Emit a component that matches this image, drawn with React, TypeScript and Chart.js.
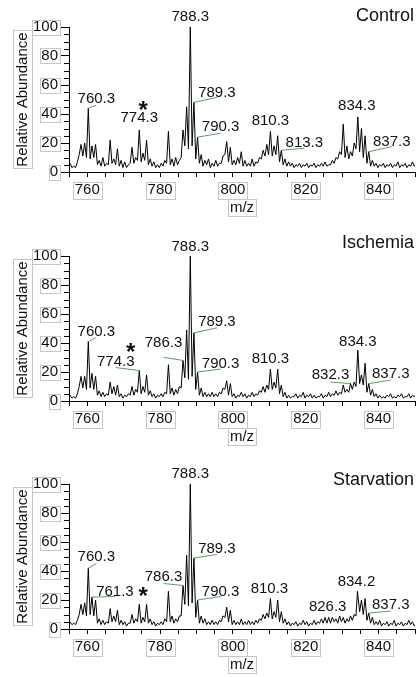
import React, { useEffect, useRef } from 'react';
import { Chart, registerables } from 'chart.js';

Chart.register(...registerables);

// ---------------------------------------------------------------------------
// Spectra: relative abundance (%) sampled at every nominal mass n + 0.3
// (n = 755 … 850) and at the minima in between (n + 0.8, n = 755 … 849).
// ---------------------------------------------------------------------------
const MZ_FIRST = 755;

const controlPeaks = [
  6, 4, 7, 19, 20, 44, 18, 19, 8, 10, // 755–764
  6, 22, 9, 16, 8, 7, 5, 17, 10, 29, // 765–774
  13, 22, 9, 7, 5, 6, 8, 28, 9, 10, // 775–784
  8, 29, 45, 100, 48, 24, 12, 8, 9, 6, // 785–794
  8, 6, 11, 21, 17, 8, 10, 14, 8, 6, // 795–804
  9, 7, 10, 15, 19, 28, 18, 25, 15, 9, // 805–814
  7, 6, 5, 6, 5, 6, 5, 6, 5, 6, // 815–824
  7, 5, 8, 10, 14, 33, 18, 14, 20, 38, // 825–834
  30, 25, 14, 8, 6, 5, 6, 5, 6, 5, // 835–844
  7, 5, 6, 5, 7, 6, // 845–850
];
const controlTroughs = [
  3, 3, 12, 11, 10, 9, 10, 5, 4, 4,
  5, 6, 5, 4, 3, 3, 6, 6, 8, 7,
  8, 5, 4, 3, 3, 4, 6, 5, 4, 5,
  10, 18, 16, 18, 9, 6, 4, 5, 3, 4,
  4, 6, 12, 7, 5, 5, 6, 4, 4, 4,
  4, 6, 9, 11, 12, 11, 12, 7, 5, 4,
  4, 3, 4, 3, 4, 3, 4, 3, 4, 4,
  4, 5, 6, 9, 12, 10, 9, 11, 16, 14,
  10, 6, 4, 4, 3, 4, 3, 4, 3, 4,
  3, 4, 3, 4, 4,
];

const ischemiaPeaks = [
  4, 3, 5, 17, 17, 41, 19, 17, 7, 6,
  5, 13, 10, 11, 5, 4, 5, 10, 8, 21,
  10, 18, 7, 5, 4, 5, 6, 25, 9, 8,
  10, 28, 49, 100, 47, 20, 9, 6, 5, 6,
  5, 6, 9, 14, 12, 5, 4, 6, 5, 4,
  6, 5, 7, 10, 11, 22, 13, 22, 11, 6,
  4, 3, 5, 4, 6, 4, 5, 4, 3, 5,
  4, 6, 5, 7, 6, 11, 8, 12, 13, 35,
  18, 26, 12, 8, 5, 4, 3, 4, 5, 3,
  4, 5, 3, 5, 4, 5,
];
const ischemiaTroughs = [
  2, 2, 10, 9, 8, 9, 8, 4, 3, 3,
  4, 5, 4, 3, 2, 3, 4, 4, 6, 5,
  6, 4, 3, 2, 3, 3, 5, 5, 4, 5,
  9, 16, 15, 17, 8, 4, 3, 3, 3, 3,
  3, 5, 8, 4, 3, 2, 3, 3, 2, 3,
  3, 4, 6, 6, 8, 8, 9, 5, 3, 2,
  2, 3, 2, 3, 2, 3, 2, 2, 3, 2,
  3, 3, 4, 4, 5, 6, 6, 8, 10, 12,
  11, 6, 4, 3, 2, 2, 2, 3, 2, 2,
  3, 2, 3, 2, 3,
];

const starvationPeaks = [
  5, 4, 6, 17, 18, 42, 22, 20, 7, 6,
  5, 14, 9, 13, 6, 5, 4, 10, 7, 17,
  8, 17, 7, 5, 4, 5, 7, 26, 9, 7,
  9, 30, 51, 100, 49, 20, 9, 7, 5, 6,
  5, 6, 9, 15, 13, 6, 5, 7, 5, 6,
  5, 6, 7, 10, 11, 21, 12, 20, 12, 7,
  5, 4, 5, 4, 6, 5, 4, 6, 5, 7,
  8, 8, 8, 7, 9, 8, 7, 9, 10, 26,
  20, 21, 11, 8, 5, 6, 4, 5, 4, 6,
  4, 5, 4, 6, 5, 4,
];
const starvationTroughs = [
  3, 3, 10, 10, 9, 10, 9, 4, 3, 3,
  4, 5, 5, 3, 3, 2, 4, 4, 5, 4,
  5, 4, 3, 2, 3, 3, 5, 5, 4, 5,
  9, 17, 16, 18, 8, 4, 4, 3, 3, 3,
  3, 5, 8, 5, 3, 3, 3, 3, 3, 3,
  3, 4, 6, 7, 8, 7, 8, 5, 4, 3,
  2, 3, 2, 3, 3, 2, 3, 3, 4, 4,
  4, 4, 5, 4, 5, 4, 5, 6, 9, 12,
  10, 6, 4, 3, 3, 2, 3, 2, 3, 2,
  3, 2, 3, 3, 2,
];

// Annotated peaks (m/z) and the starred species
const controlLabels = ['760.3', '774.3', '788.3', '789.3', '790.3', '810.3', '813.3', '834.3', '837.3'];
const ischemiaLabels = ['760.3', '774.3', '786.3', '788.3', '789.3', '790.3', '810.3', '832.3', '834.3', '837.3'];
const starvationLabels = ['760.3', '761.3', '786.3', '788.3', '789.3', '790.3', '810.3', '826.3', '834.2', '837.3'];
const STARRED_MZ = 774.3;

// Axes
const X_MIN = 755;
const X_MAX = 850;
const X_STEP = 5;
const X_LABELLED = [760, 780, 800, 820, 840];
const Y_MIN = 0;
const Y_MAX = 100;
const Y_STEP = 5;
const Y_LABEL_EVERY = 20;

// ---------------------------------------------------------------------------
// Layout
// ---------------------------------------------------------------------------
const WIDTH = 419;
const PLOT_H = 145;
const X_AXIS_H = 45;
const Y_AXIS_W = 69;
const FONT = '"Liberation Sans", Arial, Helvetica, sans-serif';
const BOX = '#c6c6c6';
const LEADER = 'rgb(92,158,92)';

type Note = { dx: number; dy: number; ly?: number };

type Panel = {
  name: string;
  peaks: number[];
  troughs: number[];
  labels: string[];
  top: number; // canvas top on the page
  plotTop: number; // plot area top inside the canvas
  titleDy: number;
  notes: Record<string, Note>;
  star: { dx: number; dy: number };
};

const panels: Panel[] = [
  {
    name: 'Control',
    peaks: controlPeaks,
    troughs: controlTroughs,
    labels: controlLabels,
    top: 0,
    plotTop: 27,
    titleDy: -10.5,
    notes: {
      '760.3': { dx: 8, dy: -9, ly: 6 },
      '774.3': { dx: 0, dy: -12 },
      '788.3': { dx: 0, dy: -10 },
      '789.3': { dx: 23, dy: -10, ly: 5 },
      '790.3': { dx: 23, dy: -10, ly: 6 },
      '810.3': { dx: 0, dy: -11 },
      '813.3': { dx: 23, dy: -7, ly: 5 },
      '834.3': { dx: -1, dy: -11 },
      '837.3': { dx: 23, dy: -10, ly: 5 },
    },
    star: { dx: 4, dy: -26 },
  },
  {
    name: 'Ischemia',
    peaks: ischemiaPeaks,
    troughs: ischemiaTroughs,
    labels: ischemiaLabels,
    top: 217,
    plotTop: 39,
    titleDy: -13,
    notes: {
      '760.3': { dx: 8, dy: -10, ly: 6 },
      '774.3': { dx: -23.5, dy: -9, ly: 6 },
      '786.3': { dx: -19.5, dy: -18, ly: 15 },
      '788.3': { dx: 0, dy: -9.5 },
      '789.3': { dx: 23, dy: -11, ly: 6 },
      '790.3': { dx: 23, dy: -8, ly: 5 },
      '810.3': { dx: 0, dy: -10 },
      '832.3': { dx: -20, dy: -8.5, ly: 7 },
      '834.3': { dx: 0, dy: -8.5 },
      '837.3': { dx: 22, dy: -9.5, ly: 6 },
    },
    star: { dx: -8.5, dy: -24.5 },
  },
  {
    name: 'Starvation',
    peaks: starvationPeaks,
    troughs: starvationTroughs,
    labels: starvationLabels,
    top: 446,
    plotTop: 38,
    titleDy: -4,
    notes: {
      '760.3': { dx: 8, dy: -11, ly: 6.5 },
      '761.3': { dx: 23, dy: -5.5, ly: 5 },
      '786.3': { dx: -19.5, dy: -9, ly: 7 },
      '788.3': { dx: 0, dy: -10.5 },
      '789.3': { dx: 23, dy: -9.5, ly: 6 },
      '790.3': { dx: 23, dy: -8.5, ly: 5 },
      '810.3': { dx: -1, dy: -10 },
      '826.3': { dx: -1, dy: -10.5 },
      '834.2': { dx: -1, dy: -9.5 },
      '837.3': { dx: 22, dy: -8, ly: 6 },
    },
    star: { dx: 4, dy: -14.5 },
  },
];

// Profile points: labelled peaks sit at their stated m/z
function buildSpectrum(peaks: number[], troughs: number[], labels: string[]) {
  const labelled = labels.map(Number);
  const pts: { x: number; y: number }[] = [];
  peaks.forEach((v, i) => {
    const nominal = MZ_FIRST + i;
    const hit = labelled.find((m) => Math.floor(m) === nominal);
    pts.push({ x: hit !== undefined ? hit : nominal + 0.3, y: v });
    if (i < troughs.length) pts.push({ x: nominal + 0.8, y: troughs[i] });
  });
  return pts;
}

function peakValue(peaks: number[], mz: number) {
  return peaks[Math.floor(mz) - MZ_FIRST];
}

const notesPlugin = {
  id: 'peakNotes',
  afterDraw(chart: any, _args: any, opts: any) {
    const panel: Panel = opts.panel;
    const { ctx, chartArea } = chart;
    const xs = chart.scales.x;
    const ys = chart.scales.y;
    ctx.save();

    // minor ticks on the abundance axis
    ctx.strokeStyle = '#000';
    ctx.lineWidth = 1;
    ys.ticks.forEach((t: any) => {
      if (t.value % Y_LABEL_EVERY === 0) return;
      const py = Math.round(ys.getPixelForValue(t.value)) + 0.5;
      ctx.beginPath();
      ctx.moveTo(chartArea.left - 5, py);
      ctx.lineTo(chartArea.left, py);
      ctx.stroke();
    });

    // frames around tick labels and axis titles
    ctx.strokeStyle = BOX;
    ctx.font = `15px ${FONT}`;
    ys.ticks.forEach((t: any) => {
      if (t.value % Y_LABEL_EVERY !== 0) return;
      const w = ctx.measureText(String(t.value)).width;
      const py = ys.getPixelForValue(t.value);
      const right = chartArea.left - 9;
      ctx.strokeRect(Math.round(right - w - 3) + 0.5, Math.round(py - 7.5) + 0.5, Math.round(w + 3), 15);
    });
    const axisY = chartArea.bottom;
    xs.ticks.forEach((t: any) => {
      if (!X_LABELLED.includes(t.value)) return;
      const w = ctx.measureText(String(t.value)).width;
      const px = xs.getPixelForValue(t.value);
      ctx.strokeRect(Math.round(px - w / 2 - 2) + 0.5, Math.round(axisY + 10) + 0.5, Math.round(w + 4), 17);
    });
    const mzW = ctx.measureText('m/z').width;
    const midX = (chartArea.left + chartArea.right) / 2;
    ctx.strokeRect(Math.round(midX - mzW / 2 - 2) + 0.5, Math.round(axisY + 27) + 0.5, Math.round(mzW + 4), 17);
    const yTitleW = ctx.measureText('Relative Abundance').width;
    const midY = (chartArea.top + chartArea.bottom) / 2;
    ctx.strokeRect(13.5, Math.round(midY - yTitleW / 2 - 2) + 0.5, 19, Math.round(yTitleW + 4));

    // peak labels with leader lines
    ctx.fillStyle = '#111';
    ctx.textAlign = 'center';
    ctx.textBaseline = 'middle';
    panel.labels.forEach((lab) => {
      const mz = Number(lab);
      const note = panel.notes[lab];
      const px = xs.getPixelForValue(mz);
      const py = ys.getPixelForValue(peakValue(panel.peaks, mz));
      const tx = px + note.dx;
      const ty = py + note.dy;
      if (note.ly !== undefined) {
        ctx.strokeStyle = LEADER;
        ctx.beginPath();
        ctx.moveTo(px, py);
        ctx.lineTo(tx, ty + note.ly);
        ctx.stroke();
      }
      ctx.fillText(lab, tx, ty);
    });

    // star marking the species at m/z 774.3
    const sx = xs.getPixelForValue(STARRED_MZ) + panel.star.dx;
    const sy = ys.getPixelForValue(peakValue(panel.peaks, STARRED_MZ)) + panel.star.dy;
    ctx.font = `bold 24px ${FONT}`;
    ctx.textBaseline = 'alphabetic';
    ctx.fillText('*', sx, sy + 14);

    // condition name
    ctx.font = `18px ${FONT}`;
    ctx.textAlign = 'right';
    ctx.textBaseline = 'middle';
    ctx.fillStyle = '#111';
    ctx.fillText(panel.name, 414, chartArea.top + panel.titleDy);

    ctx.restore();
  },
};

function SpectrumPanel({ panel }: { panel: Panel }) {
  const ref = useRef<HTMLCanvasElement | null>(null);
  const height = panel.plotTop + PLOT_H + X_AXIS_H;

  useEffect(() => {
    if (!ref.current) return;
    const tickFont = { family: FONT, size: 15 };
    const chart = new Chart(ref.current, {
      type: 'line',
      data: {
        datasets: [
          {
            data: buildSpectrum(panel.peaks, panel.troughs, panel.labels),
            borderColor: '#000',
            borderWidth: 1,
            pointRadius: 0,
            tension: 0,
            fill: false,
          },
        ],
      },
      options: {
        responsive: false,
        animation: false,
        events: [],
        layout: { padding: { top: panel.plotTop, left: 0, right: 0, bottom: 0 } },
        plugins: {
          legend: { display: false },
          tooltip: { enabled: false },
          peakNotes: { panel },
        } as any,
        scales: {
          x: {
            type: 'linear',
            min: X_MIN,
            max: X_MAX,
            afterFit: (s: any) => {
              s.height = X_AXIS_H;
            },
            ticks: {
              stepSize: X_STEP,
              autoSkip: false,
              maxRotation: 0,
              padding: 4,
              color: '#111',
              font: tickFont,
              callback: (v: any) => (X_LABELLED.includes(Number(v)) ? String(v) : ''),
            },
            grid: { drawOnChartArea: false, tickLength: 5, tickColor: '#000' },
            border: { color: '#000', width: 1 },
            title: { display: true, text: 'm/z', color: '#111', font: tickFont, padding: 0 },
          },
          y: {
            min: Y_MIN,
            max: Y_MAX,
            afterFit: (s: any) => {
              s.width = Y_AXIS_W;
            },
            ticks: {
              stepSize: Y_STEP,
              autoSkip: false,
              padding: 2,
              color: '#111',
              font: tickFont,
              callback: (v: any) => (Number(v) % Y_LABEL_EVERY === 0 ? String(v) : ''),
            },
            grid: {
              drawOnChartArea: false,
              tickLength: 9,
              tickColor: (c: any) => (c.tick && c.tick.value % Y_LABEL_EVERY === 0 ? '#000' : 'rgba(0,0,0,0)'),
            },
            border: { color: '#000', width: 1 },
            title: {
              display: true,
              text: 'Relative Abundance',
              color: '#111',
              font: tickFont,
              padding: { top: 14, bottom: 0 },
            },
          },
        },
      },
      plugins: [notesPlugin],
    } as any);
    return () => chart.destroy();
  }, [panel]);

  return (
    <canvas
      ref={ref}
      width={WIDTH}
      height={height}
      style={{ position: 'absolute', left: 0, top: panel.top, width: WIDTH, height }}
    />
  );
}

export default function App() {
  return (
    <div
      style={{
        position: 'fixed',
        left: 0,
        top: 0,
        width: WIDTH,
        height: 677,
        overflow: 'hidden',
        background: '#fff',
      }}
    >
      {panels.map((p) => (
        <SpectrumPanel key={p.name} panel={p} />
      ))}
    </div>
  );
}
